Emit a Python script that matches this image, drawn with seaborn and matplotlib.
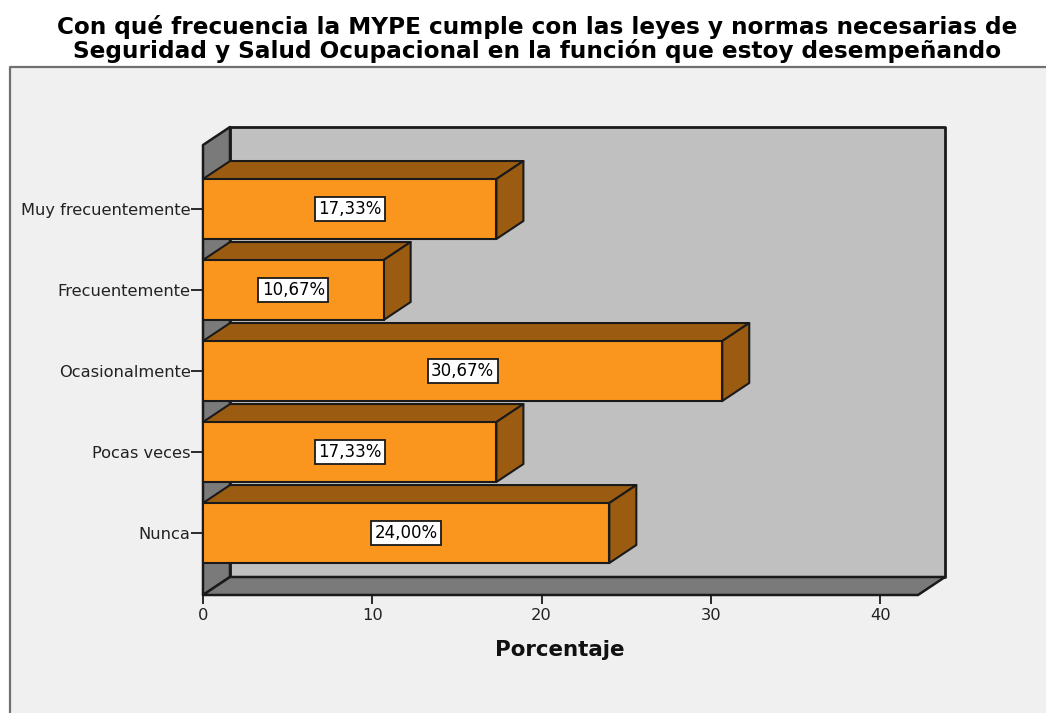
import matplotlib
matplotlib.use("Agg")
import matplotlib.pyplot as plt
from matplotlib.patches import Polygon, Rectangle
import seaborn as sns

categorias = ["Muy frecuentemente", "Frecuentemente", "Ocasionalmente", "Pocas veces", "Nunca"]
porcentajes = [17.33, 10.67, 30.67, 17.33, 24.00]
etiquetas = ["17,33%", "10,67%", "30,67%", "17,33%", "24,00%"]
ticks_x = [0, 10, 20, 30, 40]
titulo = ("Con qué frecuencia la MYPE cumple con las leyes y normas necesarias de\n"
          "Seguridad y Salud Ocupacional en la función que estoy desempeñando")

W, H = 1046, 713
NARANJA = "#fa961e"
MARRON = "#9b5c12"
GRIS_PARED = "#7a7a7a"
GRIS_FONDO = "#c0c0c0"
BORDE = "#1a1a1a"

sns.set_style("white")
plt.rcParams["font.family"] = ["DejaVu Sans"]

fig = plt.figure(figsize=(W / 100, H / 100), dpi=100, facecolor="white")

# panel gris claro con el marco arriba y a la izquierda
fig.add_artist(Rectangle((10 / W, 0), 1 - 10 / W, 1 - 67 / H, transform=fig.transFigure,
                         facecolor="#f0f0f0", edgecolor="none", zorder=-2))
fig.add_artist(plt.Line2D([10 / W, 10 / W, 1], [0, 1 - 67 / H, 1 - 67 / H],
                          transform=fig.transFigure, color="#707070", lw=1.6, zorder=-1))

ax = fig.add_axes([203 / W, 1 - 595 / H, 715 / W, 450 / H])
ax.patch.set_visible(False)

sns.barplot(x=porcentajes, y=categorias, orient="h", color=NARANJA, saturation=1,
            width=0.74, edgecolor=BORDE, linewidth=1.5, zorder=4, ax=ax)

x_max = 715 / 16.93
y_arriba, y_abajo = -0.79, 4.765
ax.set_xlim(0, x_max)
ax.set_ylim(y_abajo, y_arriba)

# profundidad del efecto 3D, en unidades de los datos
dx = 27 / 16.93
dy = 18 / 81


def cara(puntos, color, z, lw=1.5):
    ax.add_patch(Polygon(puntos, closed=True, facecolor=color, edgecolor=BORDE,
                         linewidth=lw, joinstyle="round", clip_on=False, zorder=z))


# paredes
cara([(dx, y_arriba - dy), (x_max + dx, y_arriba - dy), (x_max + dx, y_abajo - dy), (dx, y_abajo - dy)],
     GRIS_FONDO, 1, lw=2)
cara([(0, y_arriba), (dx, y_arriba - dy), (dx, y_abajo - dy), (0, y_abajo)], GRIS_PARED, 1.5, lw=1.8)
cara([(0, y_abajo), (dx, y_abajo - dy), (x_max + dx, y_abajo - dy), (x_max, y_abajo)], GRIS_PARED, 1.5, lw=1.8)

# caras superior y lateral de cada barra
for barra in ax.containers[0]:
    x1 = barra.get_width()
    y0 = barra.get_y()
    y1 = y0 + barra.get_height()
    cara([(0, y0), (dx, y0 - dy), (x1 + dx, y0 - dy), (x1, y0)], MARRON, 3)
    cara([(x1, y0), (x1 + dx, y0 - dy), (x1 + dx, y1 - dy), (x1, y1)], MARRON, 3)

ax.bar_label(ax.containers[0], labels=etiquetas, label_type="center", fontsize=12, color="black",
             zorder=6, bbox=dict(boxstyle="square,pad=0.2", facecolor="white", edgecolor=BORDE, linewidth=1.3))

sns.despine(ax=ax, top=True, right=True, left=True, bottom=True)
ax.set_xticks(ticks_x)
ax.tick_params(axis="x", length=6.5, width=1.3, color=BORDE, labelsize=11.7, pad=2.5, labelcolor="#222222", bottom=True)
ax.tick_params(axis="y", length=9, width=1.3, color=BORDE, labelsize=11.7, pad=0, labelcolor="#222222", left=True)
ax.set_ylabel("")
ax.set_xlabel("")

fig.text(560 / W, 1 - 650 / H, "Porcentaje", ha="center", va="center",
         fontsize=15.4, fontweight="bold", color="#111111")
fig.text(537 / W, 1 - 39 / H, titulo, ha="center", va="center", fontsize=16.7, fontweight="bold",
         color="black", linespacing=0.95)

fig.savefig("out.png", dpi=100, facecolor="white")
